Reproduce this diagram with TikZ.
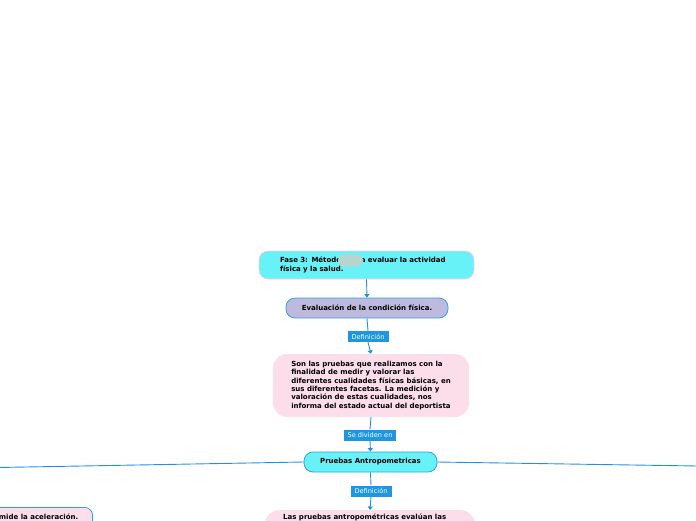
\documentclass[tikz,border=0pt]{standalone}
\usepackage{fontspec}
\setmainfont{DejaVu Sans}
\usetikzlibrary{arrows.meta}
\definecolor{cyanbox}{RGB}{102,242,246}
\definecolor{lavbox}{RGB}{190,186,222}
\definecolor{pinkbox}{RGB}{252,222,234}
\definecolor{bordblue}{RGB}{52,160,228}
\definecolor{lnblue}{RGB}{34,146,222}
\definecolor{labblue}{RGB}{30,150,226}
\definecolor{bordpink}{RGB}{244,208,222}
\definecolor{blob}{RGB}{184,212,208}
\tikzset{
  x=1pt,y=-1pt,
  every node/.style={font=\fontsize{7}{8.3}\selectfont\bfseries, inner sep=0pt},
  cbox/.style={draw=bordblue, line width=0.8pt, rounded corners=9pt, fill=cyanbox},
  pbox/.style={rounded corners=14pt, fill=pinkbox},
  lbl/.style={fill=labblue, text=white, font=\fontsize{6.6}{7}\selectfont, minimum height=11pt, inner xsep=4pt},
  conn/.style={draw=lnblue, line width=0.9pt},
  arr/.style={conn, -{Triangle[width=5pt,length=3.5pt]}}
}
\begin{document}
\begin{tikzpicture}
\useasboundingbox (0,0) rectangle (696,520);
\clip (0,0) rectangle (696,520);
% top box
\node[cbox, draw=bordpink, minimum width=215pt, minimum height=28pt, text width=173pt, align=left] (b1) at (366.5,265) {Fase 3: Métodos para evaluar la actividad\\física y la salud.};
\node[fill=blob, rounded corners=5pt, minimum width=25pt, minimum height=12pt] (blob) at (350.5,260.5) {};
% second box
\node[cbox, fill=lavbox, minimum width=162pt, minimum height=20pt] (b2) at (367,308) {Evaluación de la condición física.};
\node[lbl] (l1) at (368,336.5) {Definición};
% pink box
\node[pbox, minimum width=196pt, minimum height=63pt, align=left] (b3) at (371,385.5) {Son las pruebas que realizamos con la\\finalidad de medir y valorar las\\diferentes cualidades físicas básicas, en\\sus diferentes facetas. La medición y\\valoración de estas cualidades, nos\\informa del estado actual del deportista};
\node[lbl] (l2) at (370,435) {Se dividen en};
\node[cbox, minimum width=133pt, minimum height=20pt] (b4) at (370.5,462) {Pruebas Antropometricas};
\node[lbl] (l3) at (371,491) {Definición};
% bottom pink box
\node[pbox, minimum width=210pt, minimum height=50pt, anchor=north] (b5) at (370,510) {};
\node[anchor=base west] (t5) at (283,519) {Las pruebas antropométricas evalúan las};
% left box
\node[draw=bordblue, line width=0.8pt, rounded corners=8pt, fill=pinkbox, minimum width=160pt, minimum height=34pt, anchor=north east] (lb) at (93,507) {};
\node[anchor=base east] (lt) at (78.5,519) {mide la aceleración.};
% edge coordinates
\coordinate (le) at (-2,467.5);
\coordinate (re) at (698,466);
% connectors
\draw[arr] (b1.south) -- (b2.north);
\draw[conn] (b2.south) -- (l1.north);
\draw[arr] (l1.south) -- (b3.north);
\draw[conn] (b3.south) -- (l2.north);
\draw[arr] (l2.south) -- (b4.north);
\draw[conn] (b4.south) -- (l3.north);
\draw[arr] (l3.south) -- (b5.north);
\draw[conn] (b4.west) -- (le);
\draw[conn] (b4.east) -- (re);
\end{tikzpicture}
\end{document}
